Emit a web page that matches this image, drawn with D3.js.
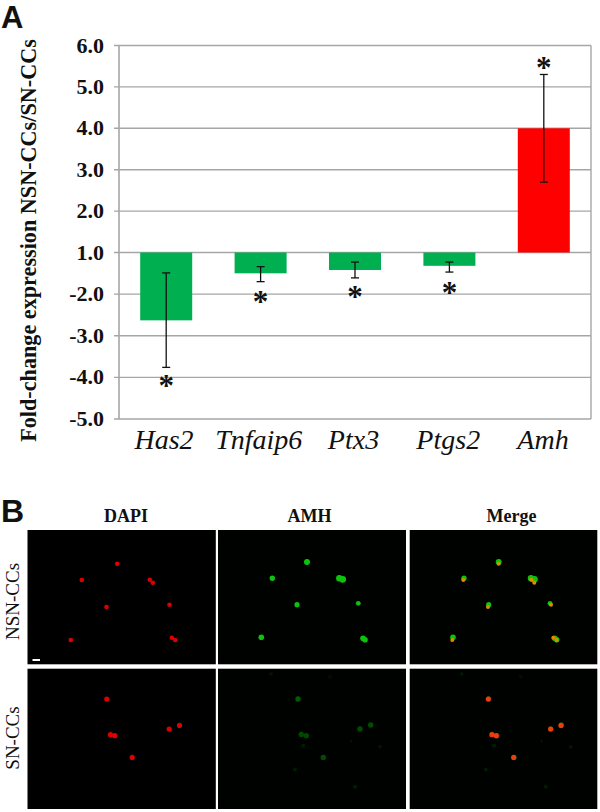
<!DOCTYPE html>
<html><head><meta charset="utf-8">
<script src="https://cdn.jsdelivr.net/npm/d3@7/dist/d3.min.js"></script>
<style>html,body{margin:0;padding:0;background:#fff}svg{display:block}
text{font-family:"Liberation Serif",serif;fill:#111}</style></head>
<body><svg id="c" width="600" height="812"></svg>
<script>
const genes=["Has2","Tnfaip6","Ptx3","Ptgs2","Amh"];
const foldChange=[-2.63,-1.5,-1.42,-1.32,4.0];
const errLow=[-3.76,-1.70,-1.61,-1.47,2.7];
const errHigh=[-1.49,-1.34,-1.23,-1.23,5.3];
const yTicks=[6,5,4,3,2,1,-2,-3,-4,-5];
const starAt=[-4.16,-2.15,-2.02,-1.93,5.5];
const columns=["DAPI","AMH","Merge"];
const rowsLab=["NSN-CCs","SN-CCs"];
// cell centres in image units, one list per row
const redRow1=[[89.7,33.7],[54.3,50],[122.3,49.7],[125.3,52.7],[142,74.7],[79,77],[43.3,110],[144.3,107.7],[147.7,110]];
const redRow2=[[79.3,30.3],[83,66],[87.3,67],[104.7,88.7],[141.7,60.3],[152,56.7]];
const greenRow1=[[89,32],[54.3,48.3],[121.3,48.3],[124.7,49.3],[140.3,73.3],[79,74.7],[43.3,107.3],[145,108.3],[147,109.7]];
const greenRow1Sizes=[3,2.7,3.2,3.4,2.4,2.6,2.8,2.8,2.8];
const greenRow2=[[79,30.3],[82.3,65.7],[87.3,67],[104.3,88.7],[141,60.3],[151.7,56.3],[132,72.3],[136,118],[84.3,77],[161,78],[76,100.7],[52,5.3],[111,8]];
const greenRow2Lum=[.36,.28,.28,.3,.3,.3,.7,.12,.12,.08,.1,.08,.06];

const svg=d3.select("#c");
const defs=svg.append("defs");
defs.append("filter").attr("id","softer").attr("x","-50%").attr("y","-50%").attr("width","200%").attr("height","200%").append("feGaussianBlur").attr("stdDeviation",0.6);

// Panel letters
svg.append("text").attr("x",1).attr("y",28.2).style("font-family","Liberation Sans").style("font-weight",700).style("font-size","31px").text("A");
svg.append("text").attr("x",1).attr("y",522).style("font-family","Liberation Sans").style("font-weight",700).style("font-size","32px").text("B");

// Broken axis: 1.0 stands for both +1 and -1
const y=d3.scaleLinear().domain([-5,-1,1,6]).range([419,252.5,252.5,45.5]);
const x=d3.scaleBand().domain(genes).range([119,591]);
const labelX=d3.scalePoint().domain(genes).range([164,543]);
const barW=52;
const col="#a6a6a6";
const g=svg.append("g");
const fmt=d3.format(".1f");
g.selectAll("line.grid").data(yTicks).join("line").attr("class","grid")
 .attr("x1",114).attr("x2",591).attr("y1",d=>y(d)).attr("y2",d=>y(d)).attr("stroke",col).attr("stroke-width",1.4);
g.append("line").attr("x1",119).attr("x2",119).attr("y1",45.5).attr("y2",419).attr("stroke",col).attr("stroke-width",1.6);
g.append("line").attr("x1",591).attr("x2",591).attr("y1",45.5).attr("y2",419).attr("stroke",col).attr("stroke-width",1.4);
g.selectAll("text.tick").data(yTicks).join("text").attr("class","tick")
 .attr("x",104).attr("y",d=>y(d)+7).attr("text-anchor","end")
 .style("font-weight",700).style("font-size","22px").text(d=>(d<0?"-":"")+fmt(Math.abs(d)));
const cx=d=>x(d)+x.bandwidth()/2;
g.selectAll("rect.bar").data(genes).join("rect").attr("class","bar")
 .attr("x",d=>cx(d)-barW/2).attr("width",barW)
 .attr("y",(d,i)=>foldChange[i]<0?y(-1):y(foldChange[i]))
 .attr("height",(d,i)=>foldChange[i]<0?y(foldChange[i])-y(-1):y(1)-y(foldChange[i]))
 .attr("fill",(d,i)=>foldChange[i]<0?"#00b050":"#ff0000");
const eb=g.selectAll("g.eb").data(genes).join("g").attr("class","eb").attr("stroke","#111").attr("stroke-width",1.3);
eb.append("line").attr("x1",cx).attr("x2",cx).attr("y1",(d,i)=>y(errLow[i])).attr("y2",(d,i)=>y(errHigh[i]));
eb.append("line").attr("x1",d=>cx(d)-4).attr("x2",d=>cx(d)+4).attr("y1",(d,i)=>y(errLow[i])).attr("y2",(d,i)=>y(errLow[i]));
eb.append("line").attr("x1",d=>cx(d)-4).attr("x2",d=>cx(d)+4).attr("y1",(d,i)=>y(errHigh[i])).attr("y2",(d,i)=>y(errHigh[i]));
g.selectAll("text.star").data(genes).join("text").attr("class","star")
 .attr("x",cx).attr("y",(d,i)=>y(starAt[i])+12).attr("text-anchor","middle")
 .style("font-weight",700).style("font-size","31px").text("*");
g.selectAll("text.cat").data(genes).join("text").attr("class","cat")
 .attr("x",d=>labelX(d)).attr("y",449).attr("text-anchor","middle")
 .style("font-style","italic").style("font-size","28px").text(d=>d);
g.append("text").attr("transform","translate(36,240.5) rotate(-90)").attr("text-anchor","middle")
 .style("font-weight",700).style("font-size","22.2px").text("Fold-change expression NSN-CCs/SN-CCs");

// Micrographs
const px=[[27.5,215.8],[218,406],[409.7,597.3]];
const py=[[530,664.3],[668.7,809]];
const headX=d3.scalePoint().domain(columns).range([126,511.5]);
svg.selectAll("text.hd").data(columns).join("text").attr("class","hd")
 .attr("x",(d,i)=>i==1?309.5:headX(d)).attr("y",522)
 .attr("text-anchor","middle").style("font-weight",700).style("font-size","18px").text(d=>d);
svg.selectAll("text.rw").data(rowsLab).join("text").attr("class","rw")
 .attr("transform",(d,i)=>`translate(19,${i==0?601.5:738}) rotate(-90)`).attr("text-anchor","middle")
 .style("font-size","19px").text(d=>d);
const redCells=[redRow1,redRow2], greenCells=[greenRow1,greenRow2];
columns.forEach((c,ci)=>rowsLab.forEach((r,ri)=>{
  const off=(ri&&ci==1)?1:0;
  const X=d3.scaleLinear().domain([0,188]).range([px[ci][0]+off,px[ci][0]+188+off]);
  const Y=d3.scaleLinear().domain([0,140]).range([py[ri][0],py[ri][0]+140]);
  svg.append("rect").attr("x",px[ci][0]).attr("y",py[ri][0]).attr("width",px[ci][1]-px[ci][0]).attr("height",py[ri][1]-py[ri][0])
    .attr("fill",ci==0?"#000":"#000200");
  const p=svg.append("g").attr("filter","url(#softer)");
  if(ci>0){
    p.selectAll("circle.g").data(greenCells[ri]).join("circle").attr("class","g")
     .attr("cx",d=>X(d[0])).attr("cy",d=>Y(d[1]))
     .attr("r",(d,i)=>ri==0?greenRow1Sizes[i]:(greenRow2Lum[i]==.7?0.4:(greenRow2Lum[i]>=.2?2.7:2)))
     .attr("fill",(d,i)=>ri==0?"#0ac40a":d3.rgb(0,Math.round(255*greenRow2Lum[i]),0));
  }
  if(ci!=1){
    const dx=ci==2?-0.7:0;
    p.selectAll("circle.r").data(redCells[ri]).join("circle").attr("class","r")
     .attr("cx",d=>X(d[0]+dx)).attr("cy",d=>Y(d[1]))
     .attr("r",ci==2&&ri==0?2:(ri==1?2.6:2.3))
     .attr("fill",ci==0?"#dc0000":(ri==0?"#e28a00":"#f03a08"));
  }
}));
svg.append("rect").attr("x",32.5).attr("y",659).attr("width",7.5).attr("height",2).attr("fill","#fff");
</script></body></html>
